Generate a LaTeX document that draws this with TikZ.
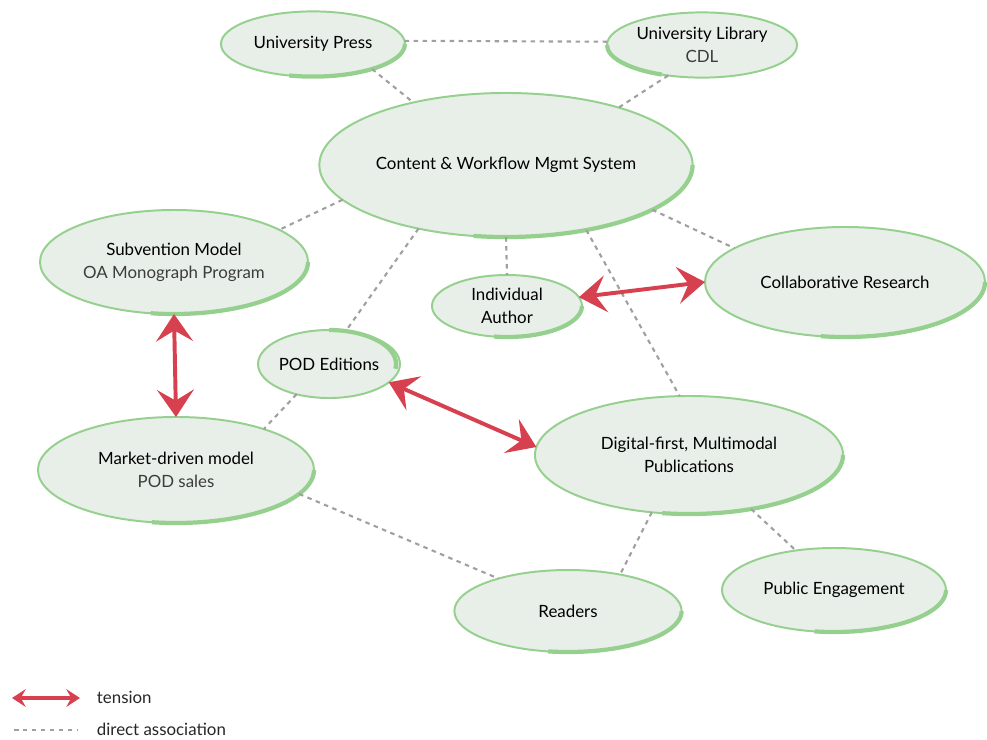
\documentclass[tikz,border=0pt]{standalone}
\usepackage{fontspec}
\setmainfont{Lato}
\usetikzlibrary{positioning, arrows.meta, shapes.geometric}
\definecolor{bubfill}{HTML}{E8EFE8}
\definecolor{bubline}{HTML}{96D08F}
\definecolor{assocgray}{HTML}{A0A0A0}
\definecolor{tensred}{HTML}{D7404F}
\definecolor{subtext}{HTML}{3C3C3C}

\begin{document}
\begin{tikzpicture}[x=0.025cm, y=-0.025cm,
    bubble/.style={ellipse, draw=bubline, fill=bubfill, line width=1.4pt, inner sep=0pt, outer sep=0pt,
                   align=center, text=black, font=\fontsize{12}{16.5}\selectfont},
    rim/.style={draw=bubline, line width=3pt},
    assoc/.style={draw=assocgray, line width=1.5pt, dash pattern=on 3.2pt off 3.2pt},
    tensarrow/.style={draw=tensred, line width=2.8pt,
                    {Stealth[length=0.68cm,width=0.92cm,inset=0.27cm]}-{Stealth[length=0.68cm,width=0.92cm,inset=0.27cm]}},
    legtip/.style={draw=tensred, line width=2.6pt,
                   {Stealth[length=0.34cm,width=0.44cm,inset=0.12cm]}-{Stealth[length=0.34cm,width=0.44cm,inset=0.12cm]}},
    legtext/.style={anchor=west, text=black!85, font=\fontsize{12}{14}\selectfont}]
    \useasboundingbox (0,0) rectangle (987,739);

    % Bubbles
    \node[bubble, minimum width=4.6cm, minimum height=1.63cm] (up) at (313,44) {University Press};
    \node[bubble, minimum width=4.75cm, minimum height=1.63cm] (ul) at (702,45) {University Library\\{\color{subtext}CDL}};
    \node[bubble, minimum width=9.33cm, minimum height=3.6cm] (cms) at (506,165) {Content \& Workflow Mgmt System};
    \node[bubble, minimum width=6.7cm, minimum height=2.6cm] (sub) at (174,262) {Subvention Model\\{\color{subtext}OA Monograph Program}};
    \node[bubble, minimum width=3.75cm, minimum height=1.55cm] (ia) at (507,306) {Individual\\Author};
    \node[bubble, minimum width=7.0cm, minimum height=2.75cm] (col) at (845,282) {Collaborative Research};
    \node[bubble, minimum width=3.35cm, minimum height=1.7cm] (pod) at (329,364) {POD Editions};
    \node[bubble, minimum width=6.9cm, minimum height=2.65cm] (mkt) at (176,470) {Market-driven model\\{\color{subtext}POD sales}};
    \node[bubble, minimum width=7.7cm, minimum height=2.95cm] (dig) at (689,455) {Digital-first, Multimodal\\Publications};
    \node[bubble, minimum width=5.68cm, minimum height=2.05cm] (rd) at (568,611) {Readers};
    \node[bubble, minimum width=5.6cm, minimum height=2.1cm] (pe) at (834,590) {Public Engagement};

    % Rims
    \draw[rim] (up.east) arc[start angle=0, end angle=-105, x radius=2.3cm, y radius=0.815cm];
    \draw[rim] (ul.west) arc[start angle=180, end angle=245, x radius=2.375cm, y radius=0.815cm];
    \draw[rim] (cms.east) arc[start angle=0, end angle=-100, x radius=4.665cm, y radius=1.8cm];
    \draw[rim] (sub.east) arc[start angle=0, end angle=-100, x radius=3.35cm, y radius=1.3cm];
    \draw[rim] (ia.east) arc[start angle=0, end angle=-100, x radius=1.875cm, y radius=0.775cm];
    \draw[rim] (col.east) arc[start angle=0, end angle=-100, x radius=3.5cm, y radius=1.375cm];
    \draw[rim] (pod.north) arc[start angle=90, end angle=-8, x radius=1.675cm, y radius=0.85cm];
    \draw[rim] (mkt.east) arc[start angle=0, end angle=-100, x radius=3.45cm, y radius=1.325cm];
    \draw[rim] (dig.east) arc[start angle=0, end angle=-100, x radius=3.85cm, y radius=1.475cm];
    \draw[rim] (rd.east) arc[start angle=0, end angle=-100, x radius=2.84cm, y radius=1.025cm];
    \draw[rim] (pe.east) arc[start angle=0, end angle=-100, x radius=2.8cm, y radius=1.05cm];

    % Associations
    \draw[assoc] (up.2) -- (ul.178);
    \draw[assoc] (up.-23) -- (cms.146);
    \draw[assoc] (ul.222) -- (cms.27);
    \draw[assoc] (cms.192) -- (sub.17);
    \draw[assoc] (cms.216) -- (pod.63);
    \draw[assoc] (cms.south) -- (ia.north);
    \draw[assoc] (cms.-39) -- (dig.99);
    \draw[assoc] (cms.-17) -- (col.163);
    \draw[assoc] (pod.223) -- (mkt.25);
    \draw[assoc] (mkt.-11) -- (rd.155);
    \draw[assoc] (dig.237) -- (rd.35);
    \draw[assoc] (dig.-41) -- (pe.134);

    % Tensions
    \draw[tensarrow] (sub.south) -- (mkt.north);
    \draw[tensarrow] (ia.7) -- (col.west);
    \draw[tensarrow] (pod.-17) -- (dig.177);

    % Legend
    \coordinate (t1) at (12,698);
    \coordinate (t2) at (80,698);
    \coordinate (a1) at (14,730);
    \coordinate (a2) at (78,730);
    \draw[legtip] (t1) -- (t2);
    \draw[assoc] (a1) -- (a2);
    \node[legtext] (legtension) at (92,697) {tension};
    \node[legtext] (legassoc) at (92,729) {direct association};
\end{tikzpicture}
\end{document}
